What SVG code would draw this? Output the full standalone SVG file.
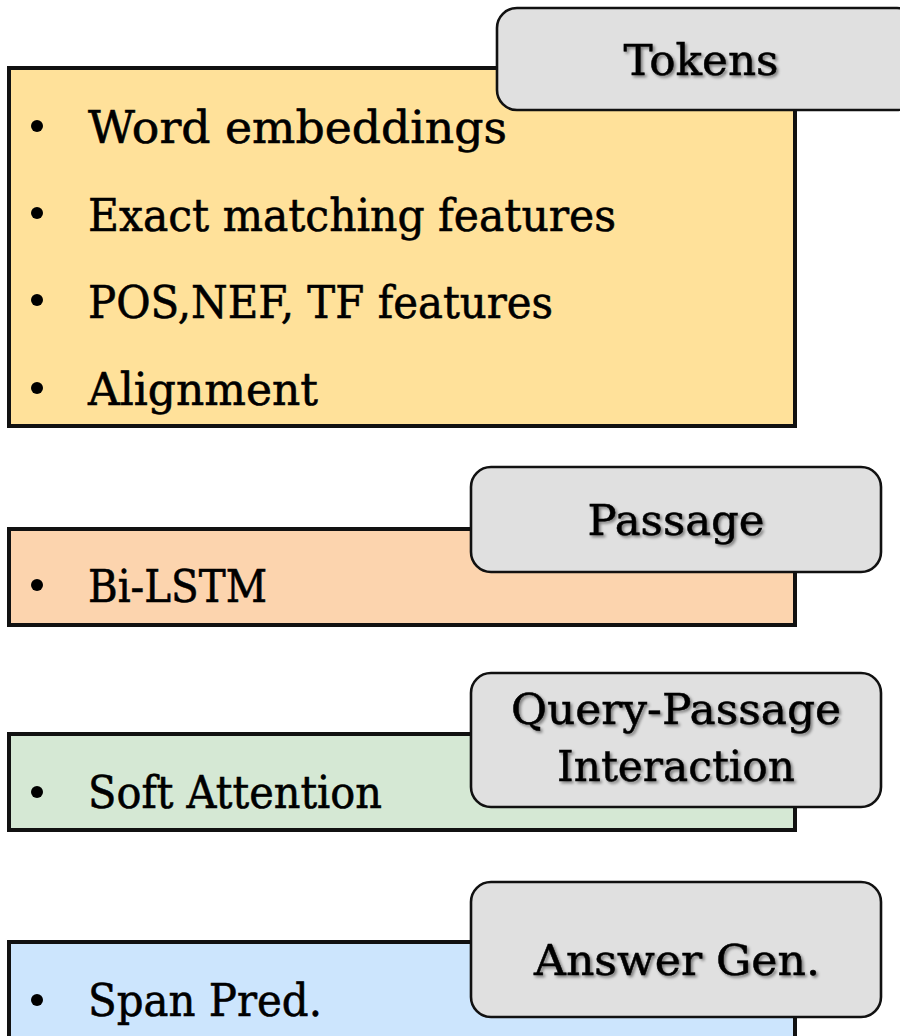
<svg xmlns="http://www.w3.org/2000/svg" width="900" height="1036" viewBox="0 0 900 1036">
  <defs>
    <filter id="txtShadow" x="-10%" y="-30%" width="120%" height="160%">
      <feDropShadow dx="2" dy="2" stdDeviation="1.4" flood-color="#000" flood-opacity="0.45"/>
    </filter>
  </defs>
  <style>
    .panel { stroke: #111; stroke-width: 4; }
    .tag { fill: #e0e0e0; stroke: #111; stroke-width: 2.6; }
    .item { font-family: "DejaVu Serif", "Liberation Serif", serif; font-size: 45px; fill: #000; stroke: #000; stroke-width: 0.6; }
    .title { font-family: "DejaVu Serif", "Liberation Serif", serif; font-size: 42px; fill: #000; stroke: #000; stroke-width: 0.5; text-anchor: middle; filter: url(#txtShadow); }
    .dot { fill: #000; }
  </style>
  <rect width="900" height="1036" fill="#fff"/>

  <!-- Tokens stage -->
  <g id="tokens">
    <rect class="panel" x="9" y="68" width="786" height="358" fill="#ffe19a"/>
    <circle class="dot" cx="37" cy="126" r="6"/>
    <text class="item" x="88" y="143" textLength="419" lengthAdjust="spacingAndGlyphs">Word embeddings</text>
    <circle class="dot" cx="37" cy="213" r="6"/>
    <text class="item" x="88" y="231" textLength="528" lengthAdjust="spacingAndGlyphs">Exact matching features</text>
    <circle class="dot" cx="37" cy="300" r="6"/>
    <text class="item" x="88" y="318" textLength="465" lengthAdjust="spacingAndGlyphs">POS,NEF, TF features</text>
    <circle class="dot" cx="37" cy="388" r="6"/>
    <text class="item" x="88" y="405" textLength="230" lengthAdjust="spacingAndGlyphs">Alignment</text>
  </g>
  <g id="tokens-tag">
    <rect class="tag" x="497" y="8" width="420" height="102" rx="20" ry="20"/>
    <text class="title" x="701" y="75" textLength="155" lengthAdjust="spacingAndGlyphs">Tokens</text>
  </g>

  <!-- Passage stage -->
  <g id="passage">
    <rect class="panel" x="9" y="529" width="786" height="96" fill="#fcd4ae"/>
    <circle class="dot" cx="37" cy="585" r="6"/>
    <text class="item" x="88" y="602" textLength="179" lengthAdjust="spacingAndGlyphs">Bi-LSTM</text>
  </g>
  <g id="passage-tag">
    <rect class="tag" x="471" y="467" width="410" height="105" rx="20" ry="20"/>
    <text class="title" x="676" y="535" textLength="177" lengthAdjust="spacingAndGlyphs">Passage</text>
  </g>

  <!-- Query-passage interaction stage -->
  <g id="interaction">
    <rect class="panel" x="9" y="734" width="786" height="96" fill="#d5e8d4"/>
    <circle class="dot" cx="37" cy="792" r="6"/>
    <text class="item" x="88" y="808" textLength="294" lengthAdjust="spacingAndGlyphs">Soft Attention</text>
  </g>
  <g id="interaction-tag">
    <rect class="tag" x="471" y="673" width="410" height="134" rx="20" ry="20"/>
    <text class="title" x="676" y="724" textLength="330" lengthAdjust="spacingAndGlyphs">Query-Passage</text>
    <text class="title" x="676" y="781" textLength="238" lengthAdjust="spacingAndGlyphs">Interaction</text>
  </g>

  <!-- Answer generation stage -->
  <g id="answer">
    <rect class="panel" x="9" y="942" width="786" height="110" fill="#cce5fd"/>
    <circle class="dot" cx="37" cy="1000" r="6"/>
    <text class="item" x="88" y="1016" textLength="234" lengthAdjust="spacingAndGlyphs">Span Pred.</text>
  </g>
  <g id="answer-tag">
    <rect class="tag" x="471" y="882" width="410" height="135" rx="20" ry="20"/>
    <text class="title" x="677" y="975" textLength="286" lengthAdjust="spacingAndGlyphs">Answer Gen.</text>
  </g>

  <!-- no connectors between stages -->
  <g id="connectors"/>
</svg>
